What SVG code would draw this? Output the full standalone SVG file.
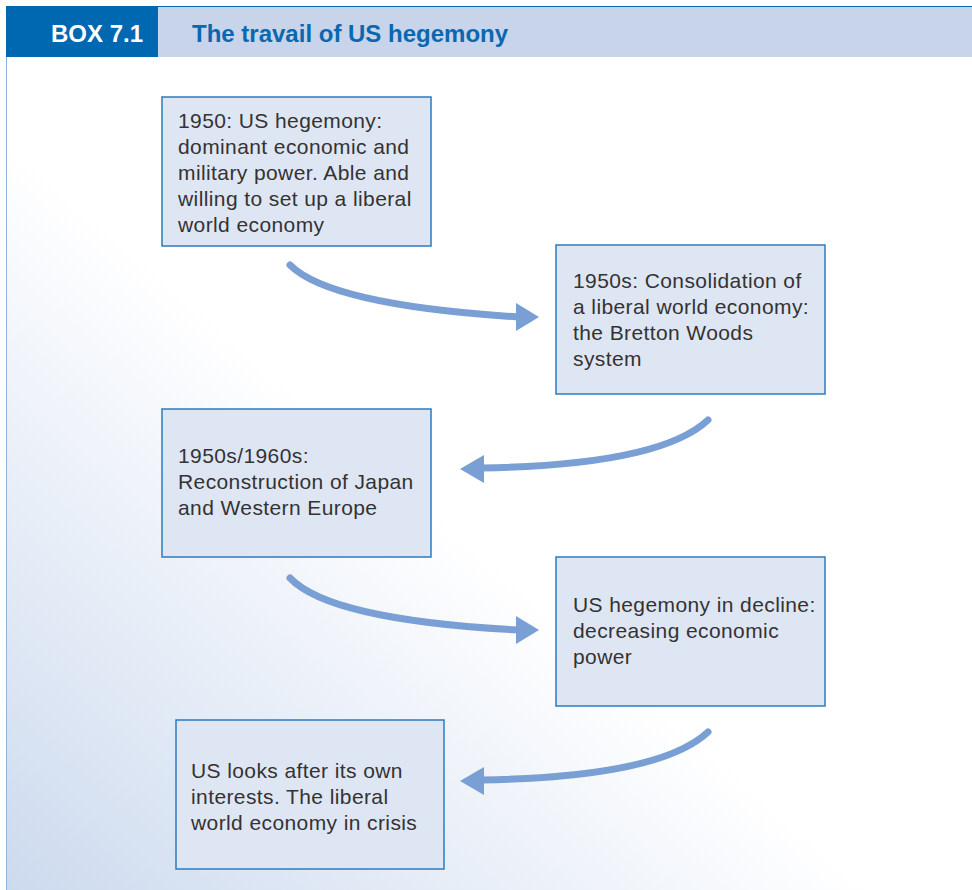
<svg xmlns="http://www.w3.org/2000/svg" width="972" height="890" viewBox="0 0 972 890">
<defs>
<linearGradient id="bg" x1="1" y1="0" x2="0" y2="1">
<stop offset="0" stop-color="#ffffff"/>
<stop offset="0.55" stop-color="#ffffff"/>
<stop offset="1" stop-color="#ccdaee"/>
</linearGradient>
<style>
.box{fill:#dfe6f3;stroke:#2b7bc1;stroke-width:1.5}
.t{font-family:"Liberation Sans",Arial,sans-serif;font-size:21px;letter-spacing:0.4px;fill:#333333}
.conn path.line{fill:none;stroke:#7a9fd4;stroke-width:7;stroke-linecap:round}
.conn polygon{fill:#7a9fd4}
.hd{font-family:"Liberation Sans",Arial,sans-serif;font-size:24px;font-weight:bold}
</style>
</defs>
<rect x="0" y="0" width="972" height="890" fill="#ffffff"/>
<rect x="6" y="57" width="966" height="833" fill="url(#bg)"/>
<line x1="6.5" y1="57" x2="6.5" y2="890" stroke="#8fb3dd" stroke-width="1"/>
<g id="header">
<rect x="6" y="6" width="152" height="51" fill="#0067b1"/>
<rect x="158" y="6" width="814" height="51" fill="#c7d4ea"/>
<line x1="6" y1="6.5" x2="972" y2="6.5" stroke="#0067b1" stroke-width="1"/>
<text x="51" y="42" class="hd" fill="#ffffff">BOX 7.1</text>
<text x="192" y="42" class="hd" fill="#0a67b0">The travail of US hegemony</text>
</g>
<g id="n1">
<rect class="box" x="162" y="97" width="269" height="149"/>
<text class="t" x="178" y="128">1950: US hegemony:</text>
<text class="t" x="178" y="154">dominant economic and</text>
<text class="t" x="178" y="180">military power. Able and</text>
<text class="t" x="178" y="206">willing to set up a liberal</text>
<text class="t" x="178" y="232">world economy</text>
</g>
<g id="n2">
<rect class="box" x="556" y="245" width="269" height="149"/>
<text class="t" x="573" y="288">1950s: Consolidation of</text>
<text class="t" x="573" y="314">a liberal world economy:</text>
<text class="t" x="573" y="340">the Bretton Woods</text>
<text class="t" x="573" y="366">system</text>
</g>
<g id="n3">
<rect class="box" x="162" y="409" width="269" height="148"/>
<text class="t" x="178" y="463">1950s/1960s:</text>
<text class="t" x="178" y="489">Reconstruction of Japan</text>
<text class="t" x="178" y="515">and Western Europe</text>
</g>
<g id="n4">
<rect class="box" x="556" y="557" width="269" height="149"/>
<text class="t" x="573" y="612">US hegemony in decline:</text>
<text class="t" x="573" y="638">decreasing economic</text>
<text class="t" x="573" y="664">power</text>
</g>
<g id="n5">
<rect class="box" x="176" y="720" width="268" height="149"/>
<text class="t" x="191" y="778">US looks after its own</text>
<text class="t" x="191" y="804">interests. The liberal</text>
<text class="t" x="191" y="830">world economy in crisis</text>
</g>
<g id="connectors" class="conn">
<path class="line" d="M290,265 Q330,305 518,317"/>
<polygon points="516,303 539,317 516,331"/>
<path class="line" d="M708,420 Q660,465 482,468"/>
<polygon points="484,455 460,469 484,483"/>
<path class="line" d="M290,578 Q330,620 518,630"/>
<polygon points="516,616 539,630 516,644"/>
<path class="line" d="M708,732 Q660,777 482,780"/>
<polygon points="484,767 460,781 484,795"/>
</g>
</svg>
